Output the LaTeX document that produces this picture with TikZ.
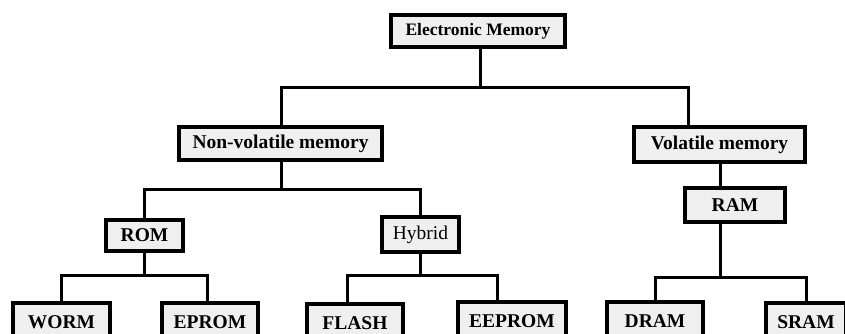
\documentclass[tikz,border=0pt]{standalone}
\usepackage{fontspec}
\setmainfont{Liberation Serif}
\definecolor{boxfill}{HTML}{EFEFEF}
\begin{document}
\begin{tikzpicture}[x=1pt,y=-1pt,
  membox/.style={draw=black,line width=3.5pt,fill=boxfill,inner sep=0pt,
    font=\fontsize{19.5}{22}\selectfont\bfseries},
  link/.style={line width=3pt,line join=miter}]
\useasboundingbox (0,0) rectangle (845,333);
\clip (0,0) rectangle (845,333);
\fill[white] (0,0) rectangle (845,333);
% connector junction levels
\coordinate (b0) at (0,87);
\coordinate (b1) at (0,189);
\coordinate (b2) at (0,275);
\coordinate (b3) at (0,277);
% level 0
\node[membox,minimum width=174pt,minimum height=32pt,font=\fontsize{17.5}{20}\selectfont\bfseries] (em) at (478,31) {Electronic Memory};
% level 1
\node[membox,minimum width=203pt,minimum height=33pt] (nv) at (280.5,143.5) {Non-volatile memory};
\node[membox,minimum width=171pt,minimum height=35pt] (vol) at (719.5,144.5) {Volatile memory};
% level 2
\node[membox,minimum width=77pt,minimum height=31pt] (rom) at (144.5,235.5) {ROM};
\node[membox,minimum width=77pt,minimum height=35pt,font=\fontsize{19.5}{22}\selectfont] (hyb) at (420.5,234.5) {Hybrid};
\node[membox,minimum width=100pt,minimum height=34pt] (ram) at (735,205) {RAM};
% level 3
\node[membox,minimum width=97pt,minimum height=38pt] (worm) at (61.5,322) {WORM};
\node[membox,minimum width=96pt,minimum height=38pt] (eprom) at (210,322) {EPROM};
\node[membox,minimum width=96pt,minimum height=38pt] (flash) at (355,323) {FLASH};
\node[membox,minimum width=108pt,minimum height=38pt] (eeprom) at (512,321) {EEPROM};
\node[membox,minimum width=96pt,minimum height=38pt] (dram) at (655,321) {DRAM};
\node[membox,minimum width=80pt,minimum height=38pt] (sram) at (806,322) {SRAM};
% connectors
\draw[link] ([xshift=2pt]em.south) -- ([xshift=2pt]em.south |- b0) -| ([xshift=0.5pt]nv.north);
\draw[link] ([xshift=2pt]em.south |- b0) -| ([xshift=-31.5pt]vol.north);
\draw[link] ([xshift=0.5pt]nv.south) -- ([xshift=0.5pt]nv.south |- b1) -| (rom.north);
\draw[link] ([xshift=0.5pt]nv.south |- b1) -| (hyb.north);
\draw[link] (rom.south) -- (rom.south |- b2) -| (worm.north);
\draw[link] (rom.south |- b2) -| ([xshift=-3pt]eprom.north);
\draw[link] (hyb.south) -- (hyb.south |- b2) -| ([xshift=-8pt]flash.north);
\draw[link] (hyb.south |- b2) -| ([xshift=-15pt]eeprom.north);
\draw[link] ([xshift=0.5pt]vol.south) -- ([xshift=-15pt]ram.north);
\draw[link] ([xshift=-15pt]ram.south) -- ([xshift=-15pt]ram.south |- b3) -| (dram.north);
\draw[link] ([xshift=-15pt]ram.south |- b3) -| (sram.north);
\end{tikzpicture}
\end{document}
